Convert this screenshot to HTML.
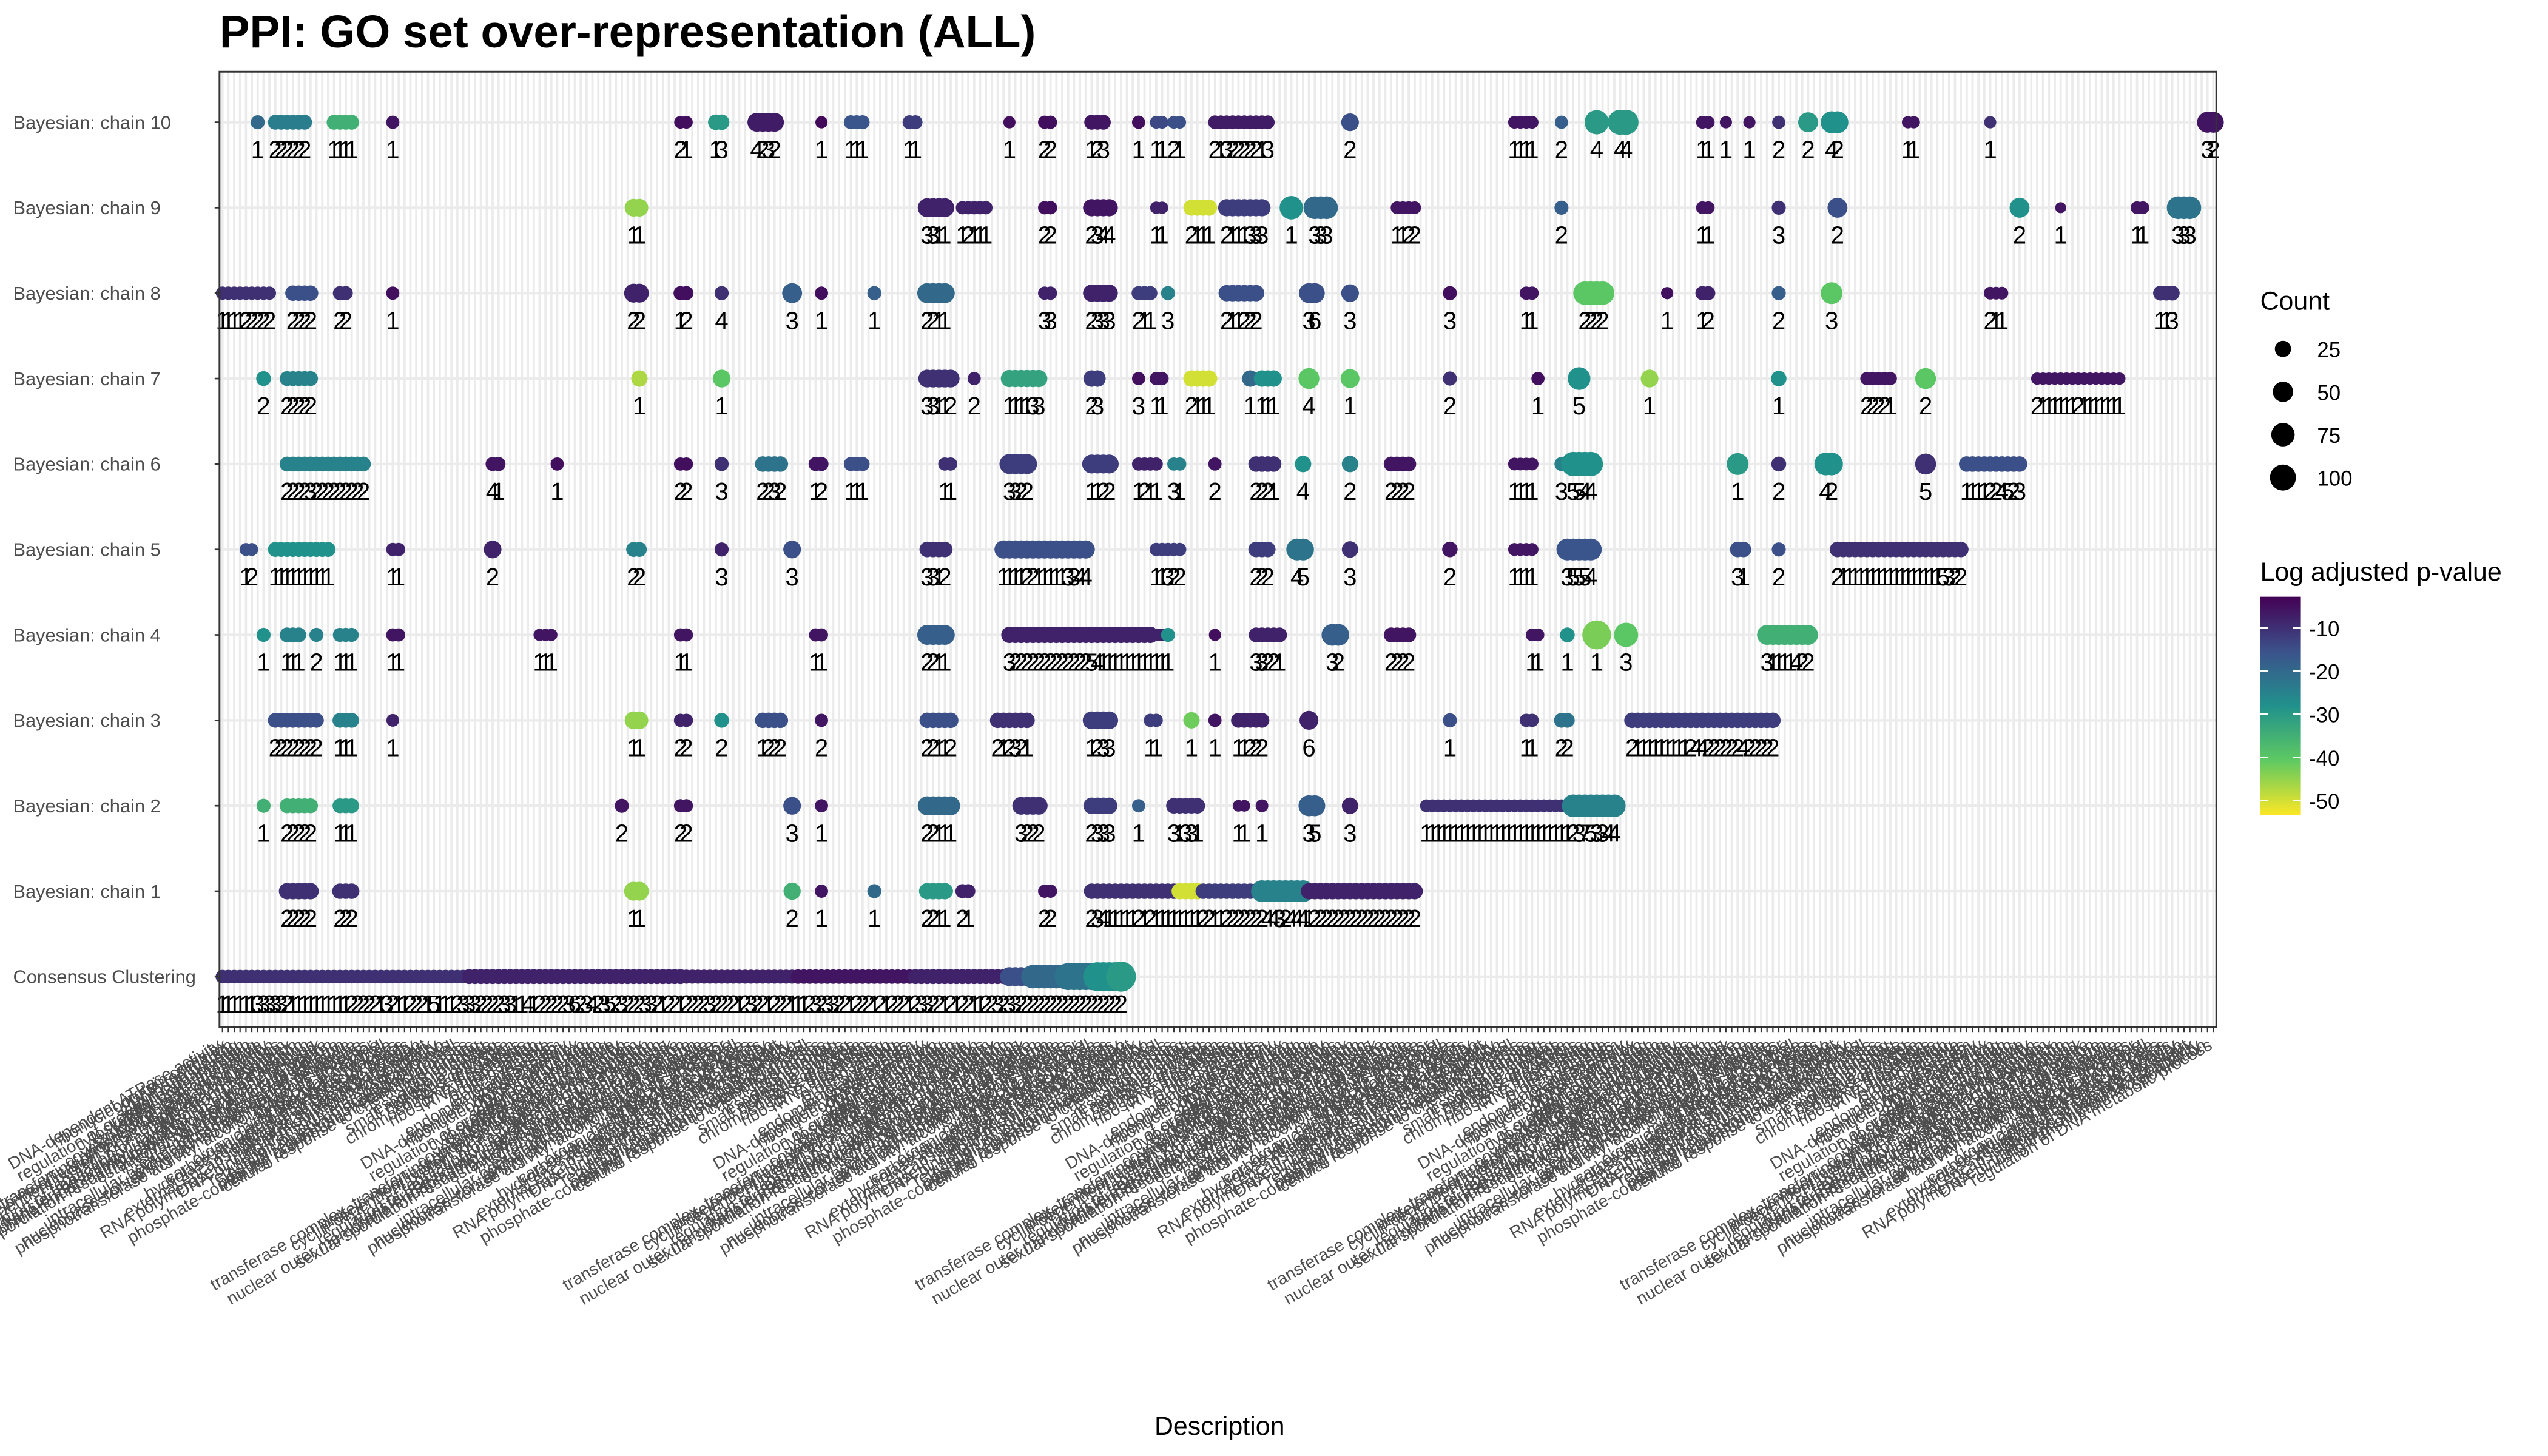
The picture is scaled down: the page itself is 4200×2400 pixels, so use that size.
<!DOCTYPE html>
<html><head><meta charset="utf-8"><style>
html,body{margin:0;padding:0;background:#fff;}
svg{display:block;}
text{font-family:"Liberation Sans",Arial,sans-serif;}
</style></head><body>
<svg id="chart" xmlns="http://www.w3.org/2000/svg" width="4200" height="2400" viewBox="0 0 1567 893" preserveAspectRatio="none">
<text x="135" y="29" font-size="27.8" font-weight="bold" fill="#000">PPI: GO set over-representation (ALL)</text>
<g id="grid"></g>
<g id="marks"></g>
<g id="axes"></g>
<text x="750" y="880" font-size="16" text-anchor="middle" fill="#000">Description</text>
<g id="legend"></g>
</svg>
<script>
const rowNames = ["Consensus Clustering","Bayesian: chain 1","Bayesian: chain 2","Bayesian: chain 3","Bayesian: chain 4","Bayesian: chain 5","Bayesian: chain 6","Bayesian: chain 7","Bayesian: chain 8","Bayesian: chain 9","Bayesian: chain 10"];
const termPool = ["DNA-dependent ATPase activity","ribonucleoprotein complex","DNA replication","chromatin binding","septin cytoskeleton","regulation of organelle organization","cytoskeletal protein binding","telomere maintenance","structural molecule activity","covalent chromatin modification","transferase complex, transferring phosphorus-containing groups","protein modification by small protein conjugation","cyclin-dependent protein kinase holoenzyme complex","DNA strand elongation","regulation of cytoskeleton organization","regulation of transcription involved in G1/S transition","transferase activity, transferring glycosyl groups","nuclear outer membrane-endoplasmic reticulum membrane network","sexual sporulation resulting in formation of a cellular spore","establishment of protein localization","integral component of membrane","microtubule cytoskeleton","external encapsulating structure","intracellular non-membrane-bounded organelle","anchored component of membrane","nucleobase-containing compound metabolic process","phosphotransferase activity, alcohol group as acceptor","cytosolic ribosome","fungal-type cell wall","mitochondrial envelope","organic acid metabolic process","carboxylic acid biosynthetic process","hydrolase activity, acting on ester bonds","regulation of catalytic activity","external encapsulating structure organization","organic substance transport","RNA polymerase II transcription regulator complex","DNA-binding transcription factor activity","sporulation","regulation of DNA metabolic process","establishment of localization in cell","positive regulation of cellular process","phosphate-containing compound metabolic process","cellular response to chemical stimulus","lipid binding","ion binding","response to stress","small molecule binding","cell cycle process","mitotic cell cycle","chromosome segregation","nucleolus","ribosome biogenesis","rRNA processing","translation","protein folding","vacuole","Golgi apparatus","endomembrane system","cell periphery"];
const nCats = 340;
const categories = Array.from({length:nCats},(_,i)=>termPool[i % termPool.length]);
// runs: [startCategory, printed labels (one char per point), count, log adjusted p-value]
const consensusRuns = [[0,"111111333332111111111122222132112221511123",7,-10],[42,"3322223311412222236234235232223321221",10,-8],[79,"2222322221232212221",8,-8],[98,"11232332212221212221",9,-6],[118,"2332212122112232",10,-8],[134,"3322",25,-15],[138,"222222",50,-20],[144,"22222",75,-22],[149,"2222",90,-28],[153,"2",100,-30]];
const chain1Runs = [[11,"22222",15,-10],[20,"222",12,-10],[70,"11",25,-45],[97,"2",18,-35],[102,"1",6,-6],[111,"1",8,-20],[120,"2211",15,-30],[126,"21",8,-8],[140,"22",6,-6],[148,"234111112121111",12,-10],[163,"1111",15,-50],[167,"2211222222",12,-12],[177,"24432444",40,-25],[185,"1222222222222222222",15,-8]];
const chain2Runs = [[7,"1",8,-35],[11,"22222",10,-35],[20,"111",10,-30],[68,"2",8,-6],[78,"22",6,-6],[97,"3",20,-15],[102,"1",6,-6],[120,"22111",25,-20],[136,"3222",20,-10],[148,"2333",15,-12],[156,"1",6,-18],[162,"31331",12,-10],[173,"11",3,-6],[177,"1",5,-6],[185,"35",35,-18],[192,"3",15,-8],[205,"1111111111111111111111111",5,-10],[230,"23753344",45,-25]];
const chain3Runs = [[9,"22222222",10,-15],[20,"111",10,-25],[29,"1",5,-8],[70,"11",20,-45],[78,"22",6,-8],[85,"2",10,-28],[92,"1222",12,-15],[102,"2",6,-6],[120,"22112",12,-15],[132,"212321",12,-10],[148,"1233",20,-12],[158,"11",6,-12],[165,"1",15,-42],[169,"1",6,-6],[173,"11222",10,-8],[185,"6",25,-8],[209,"1",8,-15],[222,"11",6,-10],[228,"22",10,-22],[240,"2111111111244222222422222",12,-12]];
const chain4Runs = [[7,"1",8,-28],[11,"111",10,-25],[16,"2",8,-25],[20,"111",8,-25],[29,"11",6,-6],[54,"111",4,-6],[78,"11",6,-6],[101,"11",6,-6],[120,"2211",30,-18],[134,"3222222222222254111111111",15,-8],[159,"11",5,-8],[161,"1",8,-28],[169,"1",4,-5],[176,"33221",10,-8],[189,"32",40,-18],[199,"2222",10,-6],[223,"11",5,-6],[229,"1",10,-28],[234,"1",90,-43],[239,"3",55,-40],[263,"31111422",30,-35]];
const chain5Runs = [[4,"12",5,-15],[9,"1111111111",10,-28],[29,"11",6,-8],[46,"2",20,-8],[70,"22",10,-25],[85,"3",8,-8],[97,"3",20,-15],[120,"3312",12,-10],[133,"111122111113344",22,-15],[159,"11322",6,-12],[176,"222",12,-12],[183,"45",40,-22],[192,"3",15,-10],[209,"2",12,-6],[220,"1111",5,-6],[229,"35554",40,-16],[258,"31",12,-15],[265,"2",8,-15],[275,"2111111111111111115322",12,-10]];
const chain6Runs = [[11,"22223222222222",10,-25],[46,"41",8,-6],[57,"1",6,-5],[78,"22",6,-5],[85,"3",8,-10],[92,"2232",12,-22],[101,"12",8,-6],[107,"111",8,-15],[123,"11",6,-10],[134,"3322",30,-12],[148,"1122",25,-12],[156,"1211",6,-8],[162,"31",6,-25],[169,"2",6,-6],[176,"2221",12,-10],[184,"4",15,-28],[192,"2",15,-25],[199,"2222",10,-6],[220,"1111",5,-6],[228,"3",8,-25],[230,"5544",55,-28],[258,"1",40,-30],[265,"2",10,-10],[273,"42",45,-28],[290,"5",35,-10],[297,"1111224523",12,-15]];
const chain7Runs = [[7,"2",10,-28],[11,"22222",10,-25],[71,"1",15,-47],[85,"1",20,-40],[120,"33112",20,-10],[128,"2",6,-8],[134,"111133",18,-32],[148,"23",15,-12],[156,"3",6,-5],[159,"11",6,-6],[165,"2111",15,-50],[175,"1",15,-20],[177,"111",15,-28],[185,"4",35,-40],[192,"1",25,-40],[209,"2",8,-10],[224,"1",6,-5],[231,"5",45,-28],[243,"1",20,-45],[265,"1",12,-28],[280,"22221",6,-6],[290,"2",35,-40],[309,"211111121111111",4,-6]];
const chain8Runs = [[0,"111122222",6,-10],[12,"2222",12,-15],[20,"22",8,-10],[29,"1",6,-5],[70,"22",25,-8],[78,"12",8,-5],[85,"4",8,-10],[97,"3",30,-18],[102,"1",6,-5],[111,"1",8,-18],[120,"2211",30,-20],[140,"33",6,-8],[148,"2333",18,-8],[156,"211",8,-12],[161,"3",8,-25],[171,"211222",15,-15],[185,"36",30,-15],[192,"3",20,-15],[209,"3",8,-5],[222,"11",6,-6],[232,"2222",50,-40],[246,"1",4,-5],[252,"12",8,-8],[265,"2",8,-18],[274,"3",40,-40],[301,"211",5,-6],[330,"113",10,-10]];
const chain9Runs = [[70,"11",20,-45],[120,"3311",25,-8],[126,"12111",6,-8],[140,"22",6,-5],[148,"2344",18,-6],[159,"11",4,-8],[165,"2111",14,-50],[171,"2111333",18,-12],[182,"1",50,-28],[186,"333",45,-20],[200,"1122",5,-6],[228,"2",8,-18],[252,"11",5,-6],[265,"3",8,-10],[275,"2",30,-15],[306,"2",30,-28],[313,"1",2,-6],[326,"11",5,-6],[333,"333",45,-22]];
const chain10Runs = [[6,"1",8,-20],[9,"222222",10,-24],[19,"1111",10,-35],[29,"1",6,-6],[78,"21",5,-5],[84,"13",12,-30],[91,"4232",25,-7],[102,"1",4,-4],[107,"111",8,-16],[117,"11",8,-12],[134,"1",4,-5],[140,"22",6,-5],[148,"123",10,-6],[156,"1",6,-5],[159,"11",5,-14],[162,"21",5,-15],[169,"2132222213",7,-7],[192,"2",20,-15],[220,"1111",5,-6],[228,"2",6,-18],[234,"4",55,-30],[238,"44",60,-30],[252,"11",5,-6],[256,"1",4,-6],[260,"1",4,-6],[265,"2",6,-10],[270,"2",30,-30],[274,"42",40,-28],[287,"11",4,-6],[301,"1",4,-10],[338,"32",35,-6]];
const rowRuns = [consensusRuns,chain1Runs,chain2Runs,chain3Runs,chain4Runs,chain5Runs,chain6Runs,chain7Runs,chain8Runs,chain9Runs,chain10Runs];
const countTicks = [25,50,75,100];
const pTicks = [-10,-20,-30,-40,-50];

const NS="http://www.w3.org/2000/svg";
const P={l:135,r:1363,t:44,b:630};
const xStep=(P.r-P.l)/nCats;
function xScale(i){return P.l+(i+0.5)*xStep;}
function yScale(r){return 599-r*52.4;}
function rScale(c){return 2.4+0.68*Math.sqrt(c);}
const pMin=-53.4,pMax=-2.8;
const vir=[[68,1,84],[59,82,139],[33,145,140],[94,201,98],[253,231,37]];
function color(p){let t=(pMax-p)/(pMax-pMin);t=Math.max(0,Math.min(1,t));const s=t*4,k=Math.min(3,Math.floor(s)),f=s-k;const a=vir[k],b=vir[k+1];return `rgb(${Math.round(a[0]+(b[0]-a[0])*f)},${Math.round(a[1]+(b[1]-a[1])*f)},${Math.round(a[2]+(b[2]-a[2])*f)})`;}
function mk(tag,attrs,parent){const e=document.createElementNS(NS,tag);for(const k in attrs)e.setAttribute(k,attrs[k]);parent.appendChild(e);return e;}

const grid=document.getElementById('grid');
const bg=mk('rect',{x:P.l,y:P.t,width:P.r-P.l,height:P.b-P.t,fill:'#fff'},grid);


for(let i=0;i<nCats;i++){const l=mk('line',{x1:xScale(i),x2:xScale(i),y1:P.t,y2:P.b,stroke:'#ebebeb','stroke-width':1.4},grid);

}
for(let r=0;r<rowNames.length;r++){const l=mk('line',{x1:P.l,x2:P.r,y1:yScale(r),y2:yScale(r),stroke:'#ebebeb','stroke-width':1.6},grid);

}

const marks=document.getElementById('marks');
rowRuns.forEach((runs,r)=>{
  const g=mk('g',{},marks);
  
  
  const lg=mk('g',{},marks);
  
  
  runs.forEach(run=>{
    const [s,labs,c,p]=run;
    for(let j=0;j<labs.length;j++){
      const i=s+j; if(i>=nCats) break;
      const cx=xScale(i),cy=yScale(r);
      const dot=mk('circle',{cx:cx,cy:cy,r:rScale(c),fill:color(p)},g);
      
      
      const t=mk('text',{x:cx,y:cy+22,'font-size':15,'text-anchor':'middle',fill:'#000'},lg);
      t.textContent=labs[j];
      
      
    }
  });
});

const axes=document.getElementById('axes');
const border=mk('rect',{x:P.l,y:P.t,width:P.r-P.l,height:P.b-P.t,fill:'none',stroke:'#333','stroke-width':1.1},axes);


rowNames.forEach((n,r)=>{
  const tk=mk('line',{x1:P.l-3,x2:P.l,y1:yScale(r),y2:yScale(r),stroke:'#333','stroke-width':1},axes);
  
  
  const t=mk('text',{x:8,y:yScale(r)+4,'font-size':11.5,'text-anchor':'start',fill:'#4d4d4d'},axes);
  t.textContent=n;
  
  
});
categories.forEach((c,i)=>{
  const x=xScale(i);
  const tk=mk('line',{x1:x,x2:x,y1:P.b,y2:P.b+3,stroke:'#333','stroke-width':0.8},axes);
  
  
  const t=mk('text',{x:x,y:P.b+13,'font-size':10.5,'text-anchor':'end',fill:'#4d4d4d',transform:`rotate(-30 ${x} ${P.b+13})`},axes);
  t.textContent=c;
  
  
});

const leg=document.getElementById('legend');
const ct=mk('text',{x:1390,y:190,'font-size':16,fill:'#000'},leg);
ct.textContent='Count';


countTicks.forEach((c,k)=>{
  const y=214+k*26.3;
  const d=mk('circle',{cx:1404,cy:y,r:2+0.6*Math.sqrt(c),fill:'#000'},leg);
  
  
  const t=mk('text',{x:1425,y:y+5,'font-size':13,fill:'#000'},leg);
  t.textContent=String(c);
  
  
});
const pt=mk('text',{x:1390,y:356,'font-size':16,fill:'#000'},leg);
pt.textContent='Log adjusted p-value';


const defs=mk('defs',{},leg);
const lgd=mk('linearGradient',{id:'vg',x1:0,y1:0,x2:0,y2:1},defs);
vir.forEach((v,k)=>mk('stop',{offset:k/4,'stop-color':`rgb(${v[0]},${v[1]},${v[2]})`},lgd));
const bar=mk('rect',{x:1390,y:366,width:25,height:134,fill:'url(#vg)'},leg);


pTicks.forEach(p=>{
  const y=366+(pMax-p)/(pMax-pMin)*134;
  mk('line',{x1:1390,x2:1395,y1:y,y2:y,stroke:'#fff','stroke-width':1},leg);
  mk('line',{x1:1410,x2:1415,y1:y,y2:y,stroke:'#fff','stroke-width':1},leg);
  const t=mk('text',{x:1420,y:y+5,'font-size':13,fill:'#000'},leg);
  t.textContent=String(p);
  
  
});
</script>
</body></html>
